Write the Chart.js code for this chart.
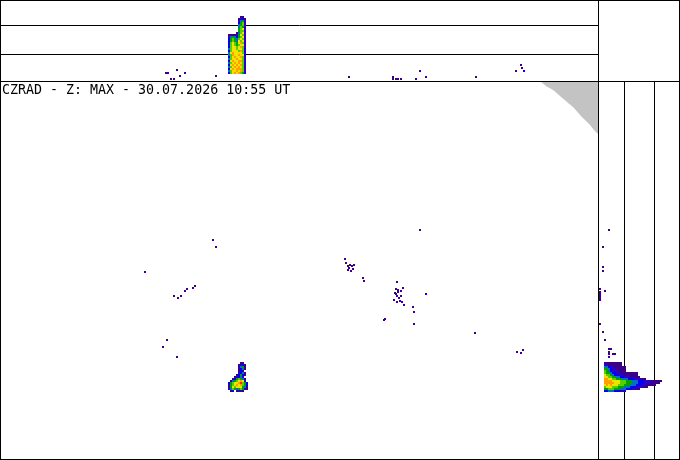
<!DOCTYPE html>
<html>
<head>
<meta charset="utf-8">
<script src="https://cdn.jsdelivr.net/npm/chart.js@4.4.1/dist/chart.umd.min.js"></script>
<style>
  body { margin: 0; background: #fff; }
  canvas { position: absolute; }
  #top { left: 0; top: 0; }
  #plan { left: 0; top: 81px; }
  #side { left: 598px; top: 81px; }
  #corner { position: absolute; left: 598px; top: 0; width: 82px; height: 82px; border: 1px solid #000; box-sizing: border-box; }
</style>
</head>
<body>
<canvas id="top" width="599" height="82"></canvas>
<canvas id="plan" width="599" height="379"></canvas>
<canvas id="side" width="82" height="379"></canvas>
<div id="corner"></div>
<script>
// CZRAD composite, 1 km grid, reflectivity classes 1..9 (weak -> strong)
var title = 'CZRAD - Z: MAX - 30.07.2026 10:55 UT';
var classColors = ['#3a0088', '#2c00c8', '#0000fa', '#0070c0', '#00a400', '#58d000', '#f2e200', '#ffa000', '#ff2800'];
var heightLines = [6.5, 14]; // km

// radar coverage edge (km east, km north), outside is grey
var edgeX = [540, 546, 553, 560, 567, 574, 580, 586, 590, 594, 599];
var edgeY = [379, 374, 370, 364, 358, 352, 345, 339, 335, 330, 325];

// isolated weak echoes in plan view
var planDotX = [213, 216, 145, 195, 193, 187, 185, 181, 174, 178, 167, 163, 177, 345, 346, 348, 350, 352, 354, 348, 351, 353, 349, 363, 364, 397, 398, 403, 401, 396, 397, 399, 394, 397, 400, 402, 404, 401, 398, 395, 396, 426, 413, 414, 385, 384, 414, 420, 475, 517, 523, 521];
var planDotY = [220, 213, 188, 174, 172, 171, 169, 164, 164, 162, 120, 113, 103, 201, 197, 194, 195, 194, 195, 190, 189, 191, 192, 182, 179, 178, 170, 172, 169, 166, 164, 162, 160, 158, 159, 158, 155, 164, 168, 167, 171, 166, 153, 148, 141, 140, 136, 230, 127, 108, 110, 107];
var planDotZ = [1, 1, 1, 1, 1, 1, 1, 1, 1, 1, 1, 1, 1, 1, 1, 1, 1, 1, 1, 1, 1, 1, 1, 1, 1, 1, 1, 1, 1, 1, 2, 1, 1, 1, 2, 1, 1, 1, 1, 1, 1, 3, 1, 1, 1, 1, 1, 1, 1, 1, 1, 1];

// storm cell in plan view, 2 km cells, rows north -> south
var cellOrigin = [229, 97];
var cellStep = [2, -2];
var cellRows = [
  '......11..',
  '.....1231.',
  '.....2451.',
  '.....1341.',
  '.....131..',
  '.....2341.',
  '....13531.',
  '...12342..',
  '..1356541.',
  '.14567872.',
  '3567789653',
  '2567878653',
  '1576777541',
  '2465456521',
  '.13.1221..'
];

// top panel: west-east max projection (x km, height km)
var topDotX = [166, 168, 177, 180, 185, 171, 174, 216, 349, 393, 393, 396, 398, 401, 416, 420, 426, 476, 516, 521, 522, 524];
var topDotH = [2, 2, 2.75, 1.25, 2, 0.5, 0.5, 1.25, 1, 1, 0.5, 0.5, 0.5, 0.5, 0.5, 2.5, 1, 1, 2.5, 4, 3.25, 2.5];
var topDotZ = [1, 1, 1, 1, 1, 1, 1, 1, 1, 1, 1, 1, 1, 1, 1, 1, 1, 1, 1, 1, 1, 3];
var towerOrigin = [229, 16];
var towerStep = [2, -0.5];
var towerRows = [
  '......11.',
  '.....1231',
  '.....2452',
  '.....3562',
  '.....4562',
  '.....4652',
  '.....5672',
  '.....5662',
  '....14672',
  '111125762',
  '245435672',
  '356546762',
  '356547672',
  '367657862',
  '367656772',
  '367767862',
  '467767763',
  '367776862',
  '478777762',
  '468778773',
  '367877862',
  '467787762',
  '378778862',
  '467878762',
  '378787862',
  '467878762',
  '378788862',
  '467787862',
  '367878652'
];

// side panel: south-north max projection (height km, y km)
var sideDotH = [2.75, 1.25, 1.25, 1.25, 0.5, 0.5, 0.5, 0.5, 0.5, 0.5, 1.75, 0.5, 1.25, 1.75, 2.75, 3.25, 2.75, 2.75, 3.75, 4.25, 2.75];
var sideDotY = [230, 213, 193, 189, 171, 168, 166, 164, 162, 160, 169, 136, 128, 120, 111, 111, 108, 106, 106, 106, 103];
var sideOrigin = [1.75, 97];
var sideStep = [0.5, -2];
var sideRows = [
  '111111111',
  '221111111',
  '44322111111',
  '55432211111',
  '65432221111',
  '65543322211111111',
  '76654332221111111',
  '776655443322211111',
  '887766555444333222111',
  '88887777666555444333222211111',
  '8888877766655544433322221111',
  '78787776665554443332211111',
  '6777666555444333222111',
  '556665554443332211',
  '33444333222'
];

function gridToPoints(origin, step, rows, out) {
  rows.forEach(function (row, r) {
    for (var c = 0; c < row.length; c++) {
      var z = parseInt(row[c], 10);
      if (!z) continue;
      out[z - 1].push({ x: origin[0] + c * step[0], y: origin[1] + r * step[1] });
    }
  });
}

function dotsToPoints(xs, ys, zs, out) {
  for (var i = 0; i < xs.length; i++) {
    out[(zs ? zs[i] : 1) - 1].push({ x: xs[i], y: ys[i] });
  }
}

function echoDatasets(buckets) {
  return buckets.map(function (pts, i) {
    return {
      label: 'class ' + (i + 1),
      data: pts,
      backgroundColor: classColors[i],
      pointStyle: 'rect',
      pointRadius: 1.45,
      pointBorderWidth: 0,
      pointHoverRadius: 1.45,
      order: 1
    };
  });
}

function emptyBuckets() {
  return classColors.map(function () { return []; });
}

var frame = {
  id: 'frame',
  afterDraw: function (chart) {
    var a = chart.chartArea, c = chart.ctx;
    c.save();
    c.strokeStyle = '#000';
    c.lineWidth = 1;
    c.strokeRect(a.left + 0.5, a.top + 0.5, a.right - a.left - 1, a.bottom - a.top - 1);
    c.restore();
  }
};

var caption = {
  id: 'caption',
  afterDraw: function (chart) {
    var c = chart.ctx, a = chart.chartArea;
    c.save();
    c.font = '13.3px "DejaVu Sans Mono"';
    c.fillStyle = '#000';
    c.textBaseline = 'alphabetic';
    c.fillText(title, a.left + 2, a.top + 13);
    c.restore();
  }
};

function heightAxis() {
  return {
    type: 'linear',
    display: true,
    ticks: { display: false },
    grid: { color: '#000', lineWidth: 1, drawTicks: false },
    border: { display: false },
    afterBuildTicks: function (scale) {
      scale.ticks = heightLines.map(function (v) { return { value: v }; });
    }
  };
}

var common = {
  responsive: false,
  animation: false,
  events: [],
  layout: { padding: 0, autoPadding: false },
  plugins: { legend: { display: false }, tooltip: { enabled: false } }
};

// plan view
var planBuckets = emptyBuckets();
dotsToPoints(planDotX, planDotY, planDotZ, planBuckets);
gridToPoints(cellOrigin, cellStep, cellRows, planBuckets);
var edge = edgeX.map(function (x, i) { return { x: x, y: edgeY[i] }; });

new Chart(document.getElementById('plan'), {
  type: 'scatter',
  data: {
    datasets: [{
      type: 'line',
      label: 'out of range',
      data: edge,
      showLine: true,
      fill: 'end',
      backgroundColor: '#c3c3c3',
      borderWidth: 0,
      borderColor: '#c3c3c3',
      pointRadius: 0,
      tension: 0.3,
      order: 2
    }].concat(echoDatasets(planBuckets))
  },
  options: Object.assign({}, common, {
    scales: {
      x: { type: 'linear', min: 0, max: 599, display: false },
      y: { type: 'linear', min: 0, max: 379, display: false }
    }
  }),
  plugins: [frame, caption]
});

// top panel
var topBuckets = emptyBuckets();
dotsToPoints(topDotX, topDotH, topDotZ, topBuckets);
gridToPoints(towerOrigin, towerStep, towerRows, topBuckets);
var topY = heightAxis();
topY.min = -0.25;
topY.max = 20.25;

new Chart(document.getElementById('top'), {
  type: 'scatter',
  data: { datasets: echoDatasets(topBuckets) },
  options: Object.assign({}, common, {
    scales: {
      x: { type: 'linear', min: 0, max: 599, display: false },
      y: topY
    }
  }),
  plugins: [frame]
});

// side panel
var sideBuckets = emptyBuckets();
dotsToPoints(sideDotH, sideDotY, null, sideBuckets);
gridToPoints(sideOrigin, sideStep, sideRows, sideBuckets);
var sideX = heightAxis();
sideX.min = 0;
sideX.max = 20.5;

new Chart(document.getElementById('side'), {
  type: 'scatter',
  data: { datasets: echoDatasets(sideBuckets) },
  options: Object.assign({}, common, {
    scales: {
      x: sideX,
      y: { type: 'linear', min: 0, max: 379, display: false }
    }
  }),
  plugins: [frame]
});
</script>
</body>
</html>
